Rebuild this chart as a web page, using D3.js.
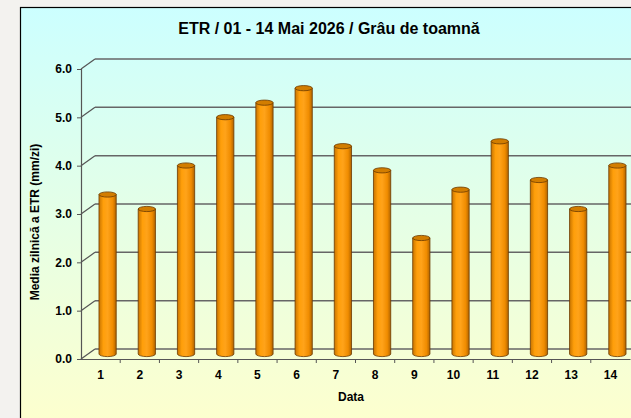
<!DOCTYPE html>
<html>
<head>
<meta charset="utf-8">
<script src="https://cdn.jsdelivr.net/npm/d3@7"></script>
<style>
  body { margin: 0; background: #f3f2ef; }
  text { font-family: Arial, "Liberation Sans", sans-serif; font-weight: bold; fill: #000; }
</style>
</head>
<body>
<div id="chart"></div>
<script>
// data
const days = ["1", "2", "3", "4", "5", "6", "7", "8", "9", "10", "11", "12", "13", "14"];
const etr = [3.3, 3.0, 3.9, 4.9, 5.2, 5.5, 4.3, 3.8, 2.4, 3.4, 4.4, 3.6, 3.0, 3.9];
const yTicks = [0, 1, 2, 3, 4, 5, 6];

const svgWidth = 631;
const svgHeight = 418;

// depth of the 3d box
const depth = { dx: 14, dy: -10 };

const svg = d3.select("#chart")
  .append("svg")
  .attr("width", svgWidth)
  .attr("height", svgHeight);

const defs = svg.append("defs");

const bg = defs.append("linearGradient")
  .attr("id", "bg")
  .attr("x1", 0).attr("y1", 0).attr("x2", 0).attr("y2", 1);
bg.append("stop").attr("offset", "0%").attr("stop-color", "#ccffff");
bg.append("stop").attr("offset", "100%").attr("stop-color", "#ffffcc");

const cyl = defs.append("linearGradient")
  .attr("id", "cyl")
  .attr("x1", 0).attr("y1", 0).attr("x2", 1).attr("y2", 0);
cyl.append("stop").attr("offset", "0%").attr("stop-color", "#c87400");
cyl.append("stop").attr("offset", "25%").attr("stop-color", "#ff9f0a");
cyl.append("stop").attr("offset", "50%").attr("stop-color", "#ffa31a");
cyl.append("stop").attr("offset", "80%").attr("stop-color", "#f08c00");
cyl.append("stop").attr("offset", "100%").attr("stop-color", "#b06400");

// chart frame
svg.append("rect")
  .attr("x", 20.5)
  .attr("y", 7.5)
  .attr("width", 640)
  .attr("height", 430)
  .attr("fill", "url(#bg)")
  .attr("stroke", "#000")
  .attr("stroke-width", 1.2);

const x = d3.scaleBand()
  .domain(days)
  .range([81, 630]);

const y = d3.scaleLinear()
  .domain([0, 6])
  .range([359, 69]);

const grid = svg.append("g");

// back wall gridlines and the diagonal joins to the axis
yTicks.forEach(function(t) {
  grid.append("line")
    .attr("x1", 81).attr("y1", y(t))
    .attr("x2", 81 + depth.dx).attr("y2", y(t) + depth.dy)
    .attr("stroke", "#555").attr("stroke-width", 1.2);
  grid.append("line")
    .attr("x1", 81 + depth.dx).attr("y1", y(t) + depth.dy)
    .attr("x2", 660).attr("y2", y(t) + depth.dy)
    .attr("stroke", "#666").attr("stroke-width", 1.5);
});

// y axis
const yAxis = svg.append("g")
  .attr("transform", "translate(81,0)")
  .call(d3.axisLeft(y).tickValues(yTicks).tickFormat(d3.format(".1f")).tickSize(4).tickPadding(5));
yAxis.select(".domain").attr("stroke", "#555").attr("stroke-width", 1.2);
yAxis.selectAll(".tick line").attr("stroke", "#555");
yAxis.selectAll("text").attr("font-size", 12);

// x axis with ticks between categories
const xAxis = svg.append("g")
  .attr("transform", `translate(0,${y(0)})`)
  .call(d3.axisBottom(x).tickSize(0).tickPadding(11));
xAxis.select(".domain").attr("stroke", "#555").attr("stroke-width", 1.2);
xAxis.selectAll("text").attr("font-size", 12);
xAxis.selectAll(".sep")
  .data(days.slice(1))
  .enter()
  .append("line")
  .attr("x1", d => x(d)).attr("x2", d => x(d))
  .attr("y1", 0).attr("y2", 4)
  .attr("stroke", "#555");

// cylinders, standing at mid depth
const barW = x.bandwidth() * 0.44;
const ry = 2.6;
const bars = svg.append("g")
  .selectAll("g")
  .data(days.map((d, i) => ({ day: d, v: etr[i] })))
  .enter()
  .append("g")
  .attr("transform", d => `translate(${x(d.day) + x.bandwidth() / 2 + depth.dx / 2},${depth.dy / 2})`);

bars.append("path")
  .attr("d", function(d) {
    const l = -barW / 2, r = barW / 2, top = y(d.v), bot = y(0);
    return `M${l},${top} L${l},${bot} A${barW / 2},${ry} 0 0 0 ${r},${bot} L${r},${top} Z`;
  })
  .attr("fill", "url(#cyl)")
  .attr("stroke", "#6b3a00")
  .attr("stroke-width", 0.8);

bars.append("ellipse")
  .attr("cx", 0)
  .attr("cy", d => y(d.v))
  .attr("rx", barW / 2)
  .attr("ry", ry)
  .attr("fill", "#d27d00")
  .attr("stroke", "#6b3a00")
  .attr("stroke-width", 0.8);

// titles
svg.append("text")
  .attr("x", 329)
  .attr("y", 34)
  .attr("text-anchor", "middle")
  .attr("font-size", 16)
  .text("ETR / 01 - 14 Mai 2026 / Grâu de toamnă");

svg.append("text")
  .attr("transform", "rotate(-90)")
  .attr("x", -222)
  .attr("y", 39)
  .attr("text-anchor", "middle")
  .attr("font-size", 12)
  .text("Media zilnică a ETR (mm/zi)");

svg.append("text")
  .attr("x", 351)
  .attr("y", 401)
  .attr("text-anchor", "middle")
  .attr("font-size", 12)
  .text("Data");
</script>
</body>
</html>
